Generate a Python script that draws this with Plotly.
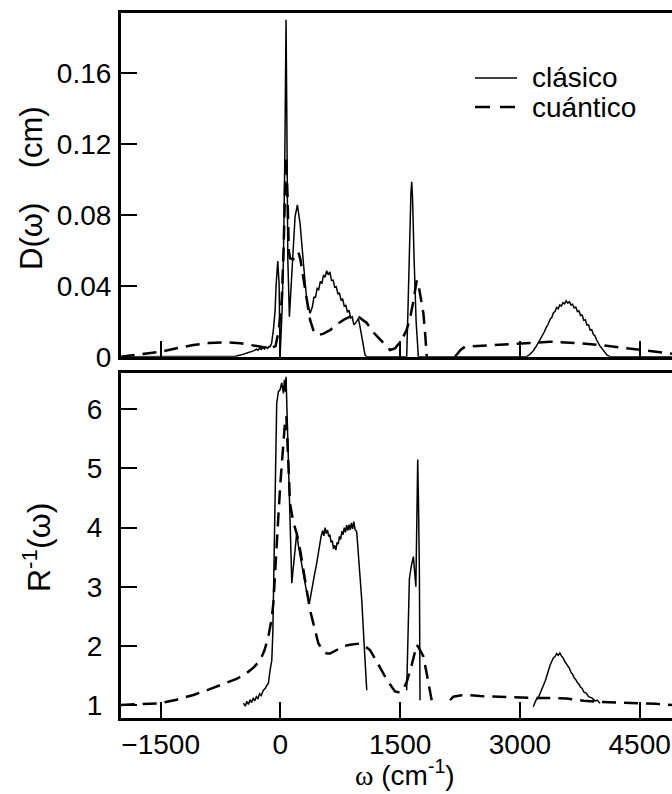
import plotly.graph_objects as go

# ---------------- data ----------------
# D(w): classical (solid) and quantum (dashed) spectra, cm
d_cl_x = [-2000, -620, -560, -500, -440, -380, -330, -300, -280, -260, -240, -220, -200, -180,
          -160, -140, -129, -110, -88, -66, -54, -40, -33, -16, -4, 21, 38, 55, 63, 71, 80, 93,
          113, 143, 184, 213, 247, 288, 330, 372, 400, 420, 440, 460, 480, 500, 520, 540, 560,
          580, 600, 620, 640, 660, 680, 700, 720, 740, 760, 780, 800, 820, 840, 860, 880, 900,
          920, 940, 960, 977, 995, 1019, 1040, 1060, 1080, 1582, 1600, 1620, 1635, 1645, 1655,
          1675, 1700, 1728, 3085, 3130, 3170, 3210, 3251, 3280, 3300, 3330, 3350, 3380, 3400,
          3420, 3440, 3460, 3480, 3500, 3520, 3540, 3560, 3580, 3600, 3620, 3640, 3660, 3680,
          3700, 3720, 3740, 3760, 3780, 3800, 3820, 3840, 3860, 3880, 3900, 3920, 3940, 3961,
          4000, 4050, 4090, 4128, 4905]
d_cl_y = [0, 0, 0.0003, 0.0009, 0.0016, 0.0026, 0.0034, 0.0042, 0.0036, 0.0048, 0.0041, 0.0052,
          0.0044, 0.0055, 0.0047, 0.0058, 0.0056, 0.0075, 0.015, 0.026, 0.040, 0.052, 0.054,
          0.041, 0, 0.026, 0.055, 0.110, 0.150, 0.190, 0.139, 0.055, 0.0226, 0.045, 0.079,
          0.0856, 0.075, 0.053, 0.032, 0.0245, 0.0280, 0.0335, 0.0335, 0.0385, 0.0378, 0.0425,
          0.0412, 0.0462, 0.0448, 0.0485, 0.0462, 0.0478, 0.0430, 0.0432, 0.0392, 0.0395,
          0.0355, 0.0358, 0.0320, 0.0325, 0.0285, 0.0290, 0.0250, 0.0262, 0.0218, 0.0225,
          0.0180, 0.0188, 0.0205, 0.0215, 0.0175, 0.0113, 0.006, 0.001, 0, 0, 0.030, 0.070,
          0.092, 0.0987, 0.090, 0.055, 0.020, 0, 0, 0.0015, 0.0035, 0.0062, 0.0094, 0.0118,
          0.0135, 0.0165, 0.0180, 0.0212, 0.0222, 0.0248, 0.0255, 0.0278, 0.0270, 0.0292,
          0.0285, 0.0305, 0.0298, 0.0315, 0.0302, 0.0310, 0.0292, 0.0296, 0.0275, 0.0280,
          0.0255, 0.0258, 0.0232, 0.0235, 0.0205, 0.0208, 0.0178, 0.0180, 0.0150, 0.0152,
          0.0125, 0.0118, 0.0094, 0.0062, 0.003, 0.001, 0, 0]

d_q_x = [-2000, -1800, -1500, -1300, -1089, -900, -671, -500, -379, -250, -129, -60, -20, 17,
         40, 60, 72, 90, 105, 121, 160, 200, 225, 250, 288, 330, 372, 420, 476, 540, 622, 700,
         800, 873, 930, 977, 1030, 1082, 1180, 1290, 1373, 1436, 1520, 1580, 1624, 1660, 1690,
         1708, 1740, 1770, 1791, 1815, 1833, None, 2187, 2260, 2312, 2500, 2800, 3001, 3200,
         3377, 3500, 3700, 4003, 4250, 4503, 4700, 4905]
d_q_y = [0, 0.001, 0.0028, 0.0048, 0.0066, 0.0077, 0.0081, 0.0076, 0.0066, 0.0057, 0.0047,
         0.006, 0.015, 0.032, 0.060, 0.098, 0.113, 0.090, 0.060, 0.0555, 0.055, 0.058, 0.059,
         0.055, 0.045, 0.032, 0.0207, 0.014, 0.0122, 0.013, 0.015, 0.018, 0.021, 0.0226, 0.023,
         0.0226, 0.0207, 0.019, 0.013, 0.0075, 0.0038, 0.0047, 0.0094, 0.015, 0.0217, 0.030,
         0.038, 0.043, 0.038, 0.030, 0.0245, 0.012, 0, None, 0, 0.004, 0.0056, 0.006, 0.0068,
         0.0072, 0.0079, 0.0085, 0.0083, 0.0077, 0.0066, 0.0052, 0.0038, 0.0027, 0.0017]

# R^-1(w): classical (solid) and quantum (dashed)
r_cl_x = [-463, -440, -421, -400, -380, -360, -340, -320, -300, -280, -260, -240, -213, -190,
          -170, -150, -129, -108, -95, -88, -70, -55, -46, -25, -4, 17, 38, 50, 60, 71, 80, 100,
          120, 143, 160, 180, 205, 225, 250, 288, 330, 363, 390, 420, 455, 490, 510, 530, 545,
          560, 575, 590, 605, 620, 635, 650, 665, 680, 695, 710, 725, 740, 755, 770, 785, 800,
          815, 830, 845, 860, 875, 890, 905, 920, 935, 956, 985, 1019, 1050, 1082, None, 1582,
          1600, 1616, 1640, 1666, 1685, 1697, 1710, 1720, 1730, 1741, 1749, None, 3168, 3200,
          3230, 3251, 3280, 3300, 3320, 3340, 3360, 3380, 3400, 3420, 3440, 3460, 3480, 3500,
          3520, 3540, 3560, 3580, 3600, 3620, 3640, 3660, 3680, 3700, 3720, 3740, 3760, 3780,
          3800, 3830, 3860, 3900, 3940, 3970, 4003]
r_cl_y = [1.03, 0.98, 1.06, 1.01, 1.09, 1.04, 1.12, 1.07, 1.14, 1.11, 1.19, 1.16, 1.25, 1.28,
          1.33, 1.37, 1.59, 1.75, 2.2, 2.72, 4.2, 5.5, 6.1, 6.3, 6.33, 6.45, 6.27, 6.5, 6.3,
          6.55, 6.1, 4.98, 3.9, 3.06, 3.3, 3.6, 3.91, 3.7, 3.5, 3.17, 2.9, 2.72, 2.95, 3.15,
          3.4, 3.7, 3.85, 3.95, 3.86, 4.0, 3.9, 3.96, 3.85, 3.88, 3.75, 3.78, 3.64, 3.7, 3.62,
          3.75, 3.72, 3.85, 3.8, 3.94, 3.88, 4.0, 3.92, 4.04, 3.95, 4.05, 3.96, 4.08, 3.98,
          4.1, 3.97, 3.93, 3.4, 2.78, 2.0, 1.25, None, 1.25, 2.3, 3.14, 3.35, 3.51, 3.2, 3.0,
          4.2, 5.15, 4.4, 3.28, 1.08, None, 0.97, 1.08, 1.12, 1.2, 1.28, 1.35, 1.42, 1.52, 1.6,
          1.68, 1.74, 1.8, 1.82, 1.87, 1.84, 1.88, 1.83, 1.8, 1.74, 1.7, 1.64, 1.62, 1.55,
          1.52, 1.46, 1.43, 1.38, 1.35, 1.3, 1.28, 1.22, 1.2, 1.14, 1.12, 1.07, 1.08, 1.03]

r_q_x = [-2000, -1800, -1500, -1300, -1089, -900, -671, -550, -421, -330, -254, -200, -150,
         -110, -88, -55, -25, 0, 38, 60, 75, 95, 121, 160, 205, 250, 288, 330, 372, 413, 476,
         530, 581, 622, 700, 800, 873, 960, 998, 1060, 1123, 1230, 1336, 1436, 1499, 1540,
         1582, 1640, 1680, 1708, 1750, 1791, 1830, 1874, 1895, None, 2125, 2166, 2250, 2334,
         2500, 2700, 3001, 3210, 3400, 3586, 3800, 4003, 4250, 4503, 4700, 4905]
r_q_y = [1.0, 1.01, 1.03, 1.09, 1.17, 1.26, 1.37, 1.44, 1.54, 1.64, 1.76, 1.92, 2.16, 2.45,
         2.72, 3.4, 4.2, 4.75, 5.37, 5.82, 5.88, 5.2, 4.41, 4.1, 3.9, 3.6, 3.3, 3.0, 2.6,
         2.38, 2.04, 1.93, 1.87, 1.87, 1.93, 2.0, 2.02, 2.04, 2.04, 1.99, 1.93, 1.68, 1.42,
         1.23, 1.21, 1.27, 1.39, 1.65, 1.88, 2.02, 1.93, 1.82, 1.55, 1.25, 1.08, None, 1.08,
         1.14, 1.16, 1.17, 1.15, 1.14, 1.13, 1.12, 1.12, 1.11, 1.07, 1.05, 1.04, 1.03, 1.02,
         1.0]

x_ticks = [-1500, 0, 1500, 3000, 4500]
d_ticks = [0, 0.04, 0.08, 0.12, 0.16]
d_ticktext = ["0", "0.04", "0.08", "0.12", "0.16"]
r_ticks = [1, 2, 3, 4, 5, 6]
legend_names = ["clásico", "cuántico"]

# ---------------- figure ----------------
W, H = 672, 794
FONT = "Liberation Sans, Arial, Helvetica, sans-serif"
TICK_SIZE = 28

solid = dict(color="black", width=1.5)
dashed = dict(color="black", width=2.5, dash="14px,8px")

fig = go.Figure()
fig.add_trace(go.Scatter(x=d_cl_x, y=d_cl_y, mode="lines", line=solid,
                         xaxis="x", yaxis="y", showlegend=False))
fig.add_trace(go.Scatter(x=d_q_x, y=d_q_y, mode="lines", line=dashed,
                         xaxis="x", yaxis="y", showlegend=False))
fig.add_trace(go.Scatter(x=r_cl_x, y=r_cl_y, mode="lines", line=solid,
                         xaxis="x2", yaxis="y2", showlegend=False))
fig.add_trace(go.Scatter(x=r_q_x, y=r_q_y, mode="lines", line=dashed,
                         xaxis="x2", yaxis="y2", showlegend=False))

x_dom = [120.7 / W, 1.0]
top_dom = [1 - 356.7 / H, 1 - 12.7 / H]
bot_dom = [1 - 717.7 / H, 1 - 373.3 / H]
x_range = [-2000, 4905]

common_x = dict(range=x_range, domain=x_dom, showline=True, linewidth=2.5, linecolor="black",
                mirror=True, ticks="inside", ticklen=16, tickwidth=2, tickcolor="black",
                tickvals=x_ticks, showgrid=False, zeroline=False, automargin=False,
                tickfont=dict(family=FONT, size=TICK_SIZE, color="black"))
common_y = dict(showline=True, linewidth=2.5, linecolor="black", ticks="inside",
                ticklen=17, tickwidth=2, tickcolor="black", showgrid=False, zeroline=False,
                automargin=False,
                tickfont=dict(family=FONT, size=TICK_SIZE, color="black"))

fig.update_layout(
    width=W, height=H, autosize=False,
    margin=dict(l=0, r=0, t=0, b=0, pad=0),
    paper_bgcolor="white", plot_bgcolor="white",
    showlegend=False,
    xaxis=dict(common_x, anchor="y", showticklabels=False),
    yaxis=dict(common_y, anchor="x", domain=top_dom, range=[0, 0.194],
               tickvals=d_ticks, ticktext=d_ticktext, ticklabelstandoff=1),
    xaxis2=dict(common_x, anchor="y2", showticklabels=True, ticklabelstandoff=0),
    yaxis2=dict(common_y, anchor="x2", domain=bot_dom, range=[0.785, 6.61],
                tickvals=r_ticks, ticklabelstandoff=10),
)

fig.add_annotation(x=32 / W, y=1 - 188 / H, xref="paper", yref="paper", showarrow=False,
                   text="D(ω)    (cm)", textangle=-90,
                   font=dict(family=FONT, size=31, color="black"),
                   xanchor="center", yanchor="middle")
fig.add_annotation(x=37 / W, y=1 - 548 / H, xref="paper", yref="paper", showarrow=False,
                   text="R<sup>-1</sup>(ω)", textangle=-90,
                   font=dict(family=FONT, size=32, color="black"),
                   xanchor="center", yanchor="middle")
fig.add_annotation(x=405 / W, y=1 - 793 / H, xref="paper", yref="paper", showarrow=False,
                   text="<span style='font-family:Liberation Serif'>ω</span> (cm<sup>-1</sup>)",
                   font=dict(family=FONT, size=28, color="black"),
                   xanchor="center", yanchor="bottom")

# legend: line samples and labels
leg_x0, leg_x1 = 475 / W, 517 / W
leg_rows = [1 - 78 / H, 1 - 107 / H]
fig.add_shape(type="line", xref="paper", yref="paper", x0=leg_x0, x1=leg_x1,
              y0=leg_rows[0], y1=leg_rows[0], line=dict(color="black", width=1.5))
fig.add_shape(type="line", xref="paper", yref="paper", x0=leg_x0, x1=leg_x1,
              y0=leg_rows[1], y1=leg_rows[1],
              line=dict(color="black", width=2.5, dash="15px,10px"))
for name, yy in zip(legend_names, leg_rows):
    fig.add_annotation(x=530 / W, y=yy, xref="paper", yref="paper", showarrow=False,
                       text=name, font=dict(family=FONT, size=28, color="black"),
                       xanchor="left", yanchor="middle")

fig.write_html("out.html")
